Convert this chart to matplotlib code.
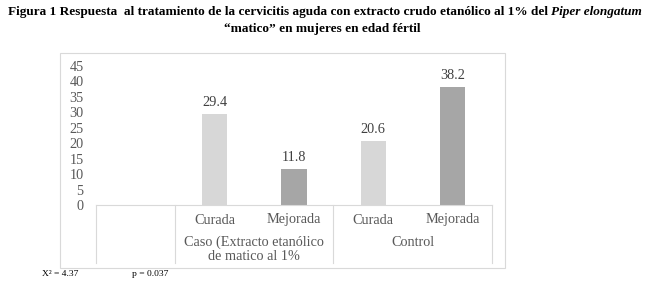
import matplotlib
matplotlib.use("Agg")
import matplotlib.pyplot as plt
from matplotlib.lines import Line2D

categories = ["", "Curada", "Mejorada", "Curada", "Mejorada"]
values = [None, 29.4, 11.8, 20.6, 38.2]
value_labels = ["", "29.4", "11.8", "20.6", "38.2"]
groups = ["Caso (Extracto etanólico\nde matico al 1%", "Control"]
yticks = [0, 5, 10, 15, 20, 25, 30, 35, 40, 45]
bar_colors = [None, "#d7d7d7", "#a6a6a6", "#d7d7d7", "#a6a6a6"]
title_parts = [("Figura 1 Respuesta  al tratamiento de la cervicitis aguda con extracto crudo etanólico al 1% del ", "normal"),
               ("Piper elongatum", "italic")]
title_line2 = "“matico” en mujeres en edad fértil"
stats = ["X² = 4.37", "p = 0.037"]

W, H = 648, 291
plt.rcParams['font.family'] = ['Liberation Serif', 'DejaVu Serif']
fig = plt.figure(figsize=(W / 100, H / 100), dpi=100)

def fx(px):
    return px / W

def fy(py):
    return 1 - py / H

FS = 10.3
TXT = "#595959"

# outer frame
fig.add_artist(plt.Rectangle((fx(60), fy(268)), fx(505) - fx(60), fy(53) - fy(268),
                             transform=fig.transFigure, fill=False, edgecolor="#d9d9d9", lw=0.8))

ax_left, ax_right, ax_top, ax_bot = 96, 492, 66, 205
ax = fig.add_axes([fx(ax_left), fy(ax_bot), fx(ax_right) - fx(ax_left), fy(ax_top) - fy(ax_bot)])
ax.set_xlim(-0.5, 4.5)
ax.set_ylim(0, 45)
for s in ax.spines.values():
    s.set_visible(False)
ax.set_xticks([])
ax.set_yticks(yticks)
ax.set_yticklabels([str(t) for t in yticks])
ax.tick_params(axis='y', length=0, pad=9, labelsize=FS, labelcolor=TXT)
ax.patch.set_alpha(0)

for i, v in enumerate(values):
    if v is None:
        continue
    ax.bar(i, v, width=0.32, color=bar_colors[i], edgecolor="none")
    ax.text(i, v + 1.6, value_labels[i], ha="center", va="bottom", fontsize=FS, color="#404040")

# category table
lc = "#d9d9d9"
fig.add_artist(Line2D([fx(96), fx(492)], [fy(205), fy(205)], transform=fig.transFigure, color=lc, lw=0.8))
for px in [96, 175, 333, 492]:
    fig.add_artist(Line2D([fx(px), fx(px)], [fy(205), fy(263)], transform=fig.transFigure, color=lc, lw=0.8))

cat_w = (ax_right - ax_left) / 5
for i, c in enumerate(categories):
    if not c:
        continue
    cx = ax_left + cat_w * (i + 0.5)
    fig.text(fx(cx), fy(220), c, ha="center", va="center", fontsize=FS, color=TXT)

for j, line in enumerate(groups[0].split("\n")):
    fig.text(fx((175 + 333) / 2), fy(242 + 14 * j), line, ha="center", va="center", fontsize=FS, color=TXT)
fig.text(fx((333 + 492) / 2), fy(242), groups[1], ha="center", va="center", fontsize=FS, color=TXT)

# title line 1 (mixed upright / italic), centred
TFS = 9.5
fig.canvas.draw()
renderer = fig.canvas.get_renderer()
pieces = []
total = 0
for txt, style in title_parts:
    t = fig.text(0, fy(12), txt, ha="left", va="center", fontsize=TFS, fontweight="bold",
                 fontstyle=style, color="#000000")
    w = t.get_window_extent(renderer).width
    pieces.append((t, w))
    total += w
x0 = (W - total) / 2 + 1
for t, w in pieces:
    t.set_x(fx(x0))
    x0 += w

fig.text(fx(322), fy(29), title_line2, ha="center", va="center", fontsize=TFS, fontweight="bold", color="#000000")

# footnote
fig.text(fx(42), fy(274), stats[0], ha="left", va="center", fontsize=6.8, color="#000000")
fig.text(fx(132), fy(274), stats[1], ha="left", va="center", fontsize=6.8, color="#000000")

fig.savefig("out.png", dpi=100)
